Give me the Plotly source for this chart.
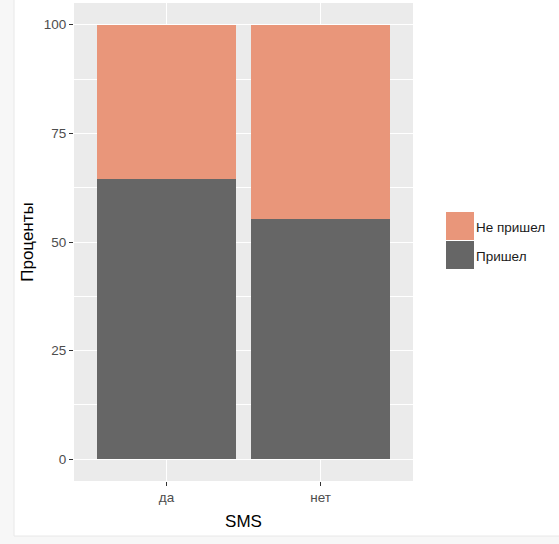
import plotly.graph_objects as go

categories = ["да", "нет"]
series_names = ["Пришел", "Не пришел"]
came = [64.6, 55.4]
not_came = [35.4, 44.6]
colors = {"Пришел": "#666666", "Не пришел": "#E9967A"}
y_ticks = [0, 25, 50, 75, 100]

fig = go.Figure()
fig.add_trace(go.Bar(x=categories, y=came, name="Пришел", marker=dict(color=colors["Пришел"], line=dict(width=0)), width=0.9, showlegend=False))
fig.add_trace(go.Bar(x=categories, y=not_came, name="Не пришел", marker=dict(color=colors["Не пришел"], line=dict(width=0)), width=0.9, showlegend=False))

W, H = 559, 544
L, R, T, B = 74, 146, 3, 63
pw, ph = W - L - R, H - T - B

def px(x):
    return (x - L) / pw

def py(y):
    return 1 - (y - T) / ph

edge = "#f7f7f7"
shapes = [
    dict(type="rect", xref="paper", yref="paper", x0=px(-5), x1=px(14), y0=py(H + 5), y1=py(-5),
         fillcolor=edge, line=dict(width=0)),
    dict(type="rect", xref="paper", yref="paper", x0=px(-5), x1=px(W + 5), y0=py(H + 5), y1=py(536),
         fillcolor=edge, line=dict(width=0)),
    dict(type="line", xref="paper", yref="paper", x0=px(14), x1=px(14), y0=py(536), y1=py(-5),
         line=dict(color="#e8e8e8", width=1)),
    dict(type="line", xref="paper", yref="paper", x0=px(14), x1=px(W + 5), y0=py(536), y1=py(536),
         line=dict(color="#e8e8e8", width=1)),
]
annotations = []
legend_items = [("Не пришел", colors["Не пришел"], 212), ("Пришел", colors["Пришел"], 241)]
for name, col, ytop in legend_items:
    shapes.append(dict(type="rect", xref="paper", yref="paper", x0=px(446), x1=px(474), y0=py(ytop + 28), y1=py(ytop),
                       fillcolor=col, line=dict(width=0)))
    annotations.append(dict(xref="paper", yref="paper", x=px(474), y=py(ytop + 15), text=name, showarrow=False,
                            xanchor="left", yanchor="middle", font=dict(size=13.5, color="#1a1a1a")))

fig.update_layout(
    width=W, height=H,
    margin=dict(l=L, r=R, t=T, b=B),
    barmode="stack",
    paper_bgcolor="white",
    plot_bgcolor="#EBEBEB",
    font=dict(family="Liberation Sans, Arial, sans-serif", size=13, color="#4d4d4d"),
    shapes=shapes,
    annotations=annotations,
    showlegend=False,
    bargap=0.1,
)
fig.update_xaxes(
    range=[-0.6, 1.6], showgrid=True, gridcolor="white", gridwidth=1.1,
    ticks="outside", ticklen=4, tickcolor="#333333", tickwidth=1,
    tickfont=dict(size=13.5, color="#4d4d4d"),
    title=dict(text="SMS", font=dict(size=17, color="black"), standoff=10),
    zeroline=False, showline=False,
)
fig.update_yaxes(
    range=[-5, 105], tickvals=y_ticks, ticktext=[str(v) for v in y_ticks],
    showgrid=True, gridcolor="white", gridwidth=1.1,
    minor=dict(dtick=12.5, tick0=12.5, showgrid=True, gridcolor="white", gridwidth=0.5),
    ticks="outside", ticklen=4, tickcolor="#333333", tickwidth=1,
    tickfont=dict(size=13.5, color="#4d4d4d"),
    title=dict(text="Проценты", font=dict(size=17, color="black"), standoff=5),
    zeroline=False, showline=False,
)

fig.write_html("out.html", config={"displayModeBar": False},
               post_script="document.body.style.margin='0';document.body.style.overflow='hidden';")
